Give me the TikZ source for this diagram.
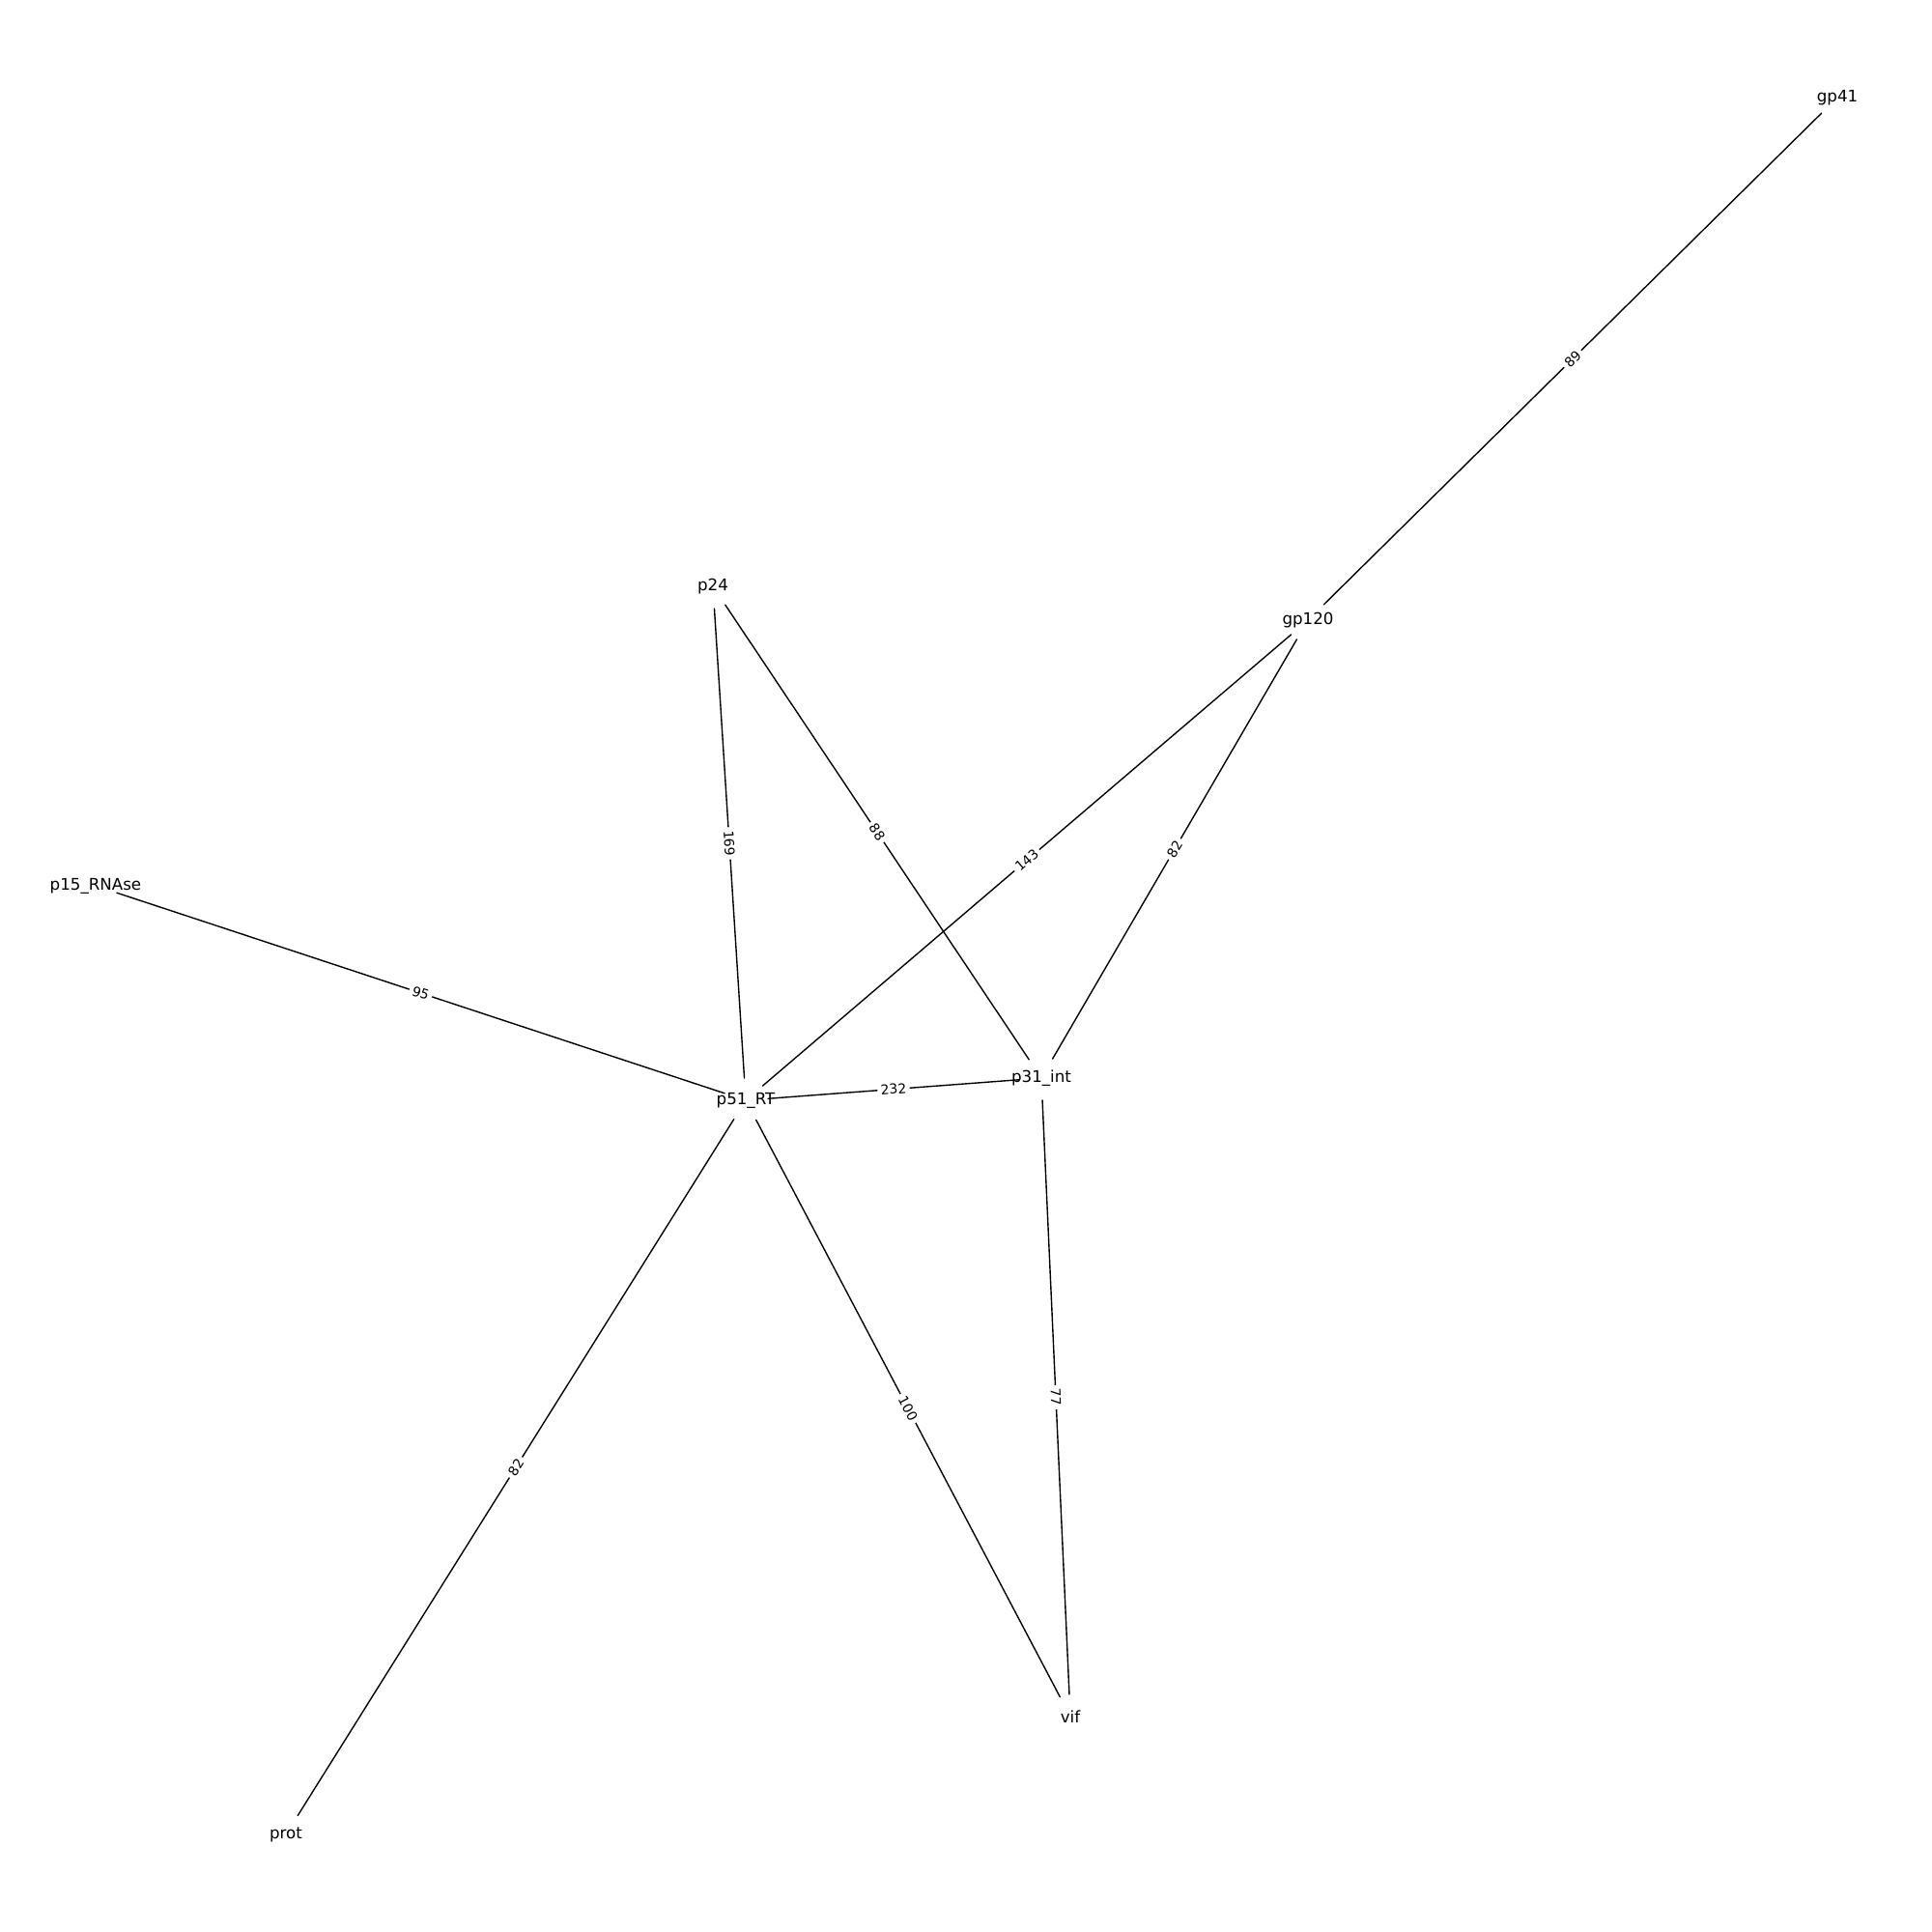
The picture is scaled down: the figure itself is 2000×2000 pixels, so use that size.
\documentclass[tikz,border=0pt]{standalone}
\usepackage{fontspec}
\setmainfont{DejaVu Sans}
\begin{document}
\begin{tikzpicture}
% protein graph, pixel grid of 2000 x 2000
\def\pxsz{0.72pt}
\providecommand{\protEdgeColor}{black}
\providecommand{\protEdgeWidth}{1pt}
\providecommand{\protNodeGap}{23}
\tikzset{
  protein/.style={inner sep=0pt, font=\fontsize{12}{14}\selectfont},
  link/.style={draw=\protEdgeColor, line width=\protEdgeWidth,
    shorten <=\protNodeGap*\pxsz, shorten >=\protNodeGap*\pxsz},
  weight/.style={midway, sloped, fill=white, inner sep=2.5pt,
    font=\fontsize{10}{12}\selectfont}
}
\begin{scope}[x=\pxsz, y=-\pxsz, line cap=round, line join=round]
  % Page frame
  \useasboundingbox (0,0) rectangle (2000,2000);
  % Node positions
  \coordinate (gp41c) at (1902,101);
  \coordinate (gp120c) at (1354,642);
  \coordinate (p24c) at (738,607);
  \coordinate (p15c) at (99,917);
  \coordinate (p51c) at (772,1139);
  \coordinate (p31c) at (1078,1116);
  \coordinate (vifc) at (1108,1777);
  \coordinate (protc) at (296,1899);
  % Edges with weights
  \draw[link] (gp41c) -- node[weight] {89} (gp120c);
  \draw[link] (gp120c) -- node[weight] {143} (p51c);
  \draw[link] (gp120c) -- node[weight] {82} (p31c);
  \draw[link] (p24c) -- node[weight] {169} (p51c);
  \draw[link] (p24c) -- node[weight] {88} (p31c);
  \draw[link] (p15c) -- node[weight] {95} (p51c);
  \draw[link] (p51c) -- node[weight] {232} (p31c);
  \draw[link] (p51c) -- node[weight] {82} (protc);
  \draw[link] (p51c) -- node[weight] {100} (vifc);
  \draw[link] (p31c) -- node[weight] {77} (vifc);
  % Labels
  \node[protein] (gp41) at (gp41c) {gp41};
  \node[protein] (gp120) at (gp120c) {gp120};
  \node[protein] (p24) at (p24c) {p24};
  \node[protein] (p15) at (p15c) {p15\_RNAse};
  \node[protein] (p51) at (p51c) {p51\_RT};
  \node[protein] (p31) at (p31c) {p31\_int};
  \node[protein] (vif) at (vifc) {vif};
  \node[protein] (prot) at (protc) {prot};
\end{scope}
\end{tikzpicture}
\end{document}
